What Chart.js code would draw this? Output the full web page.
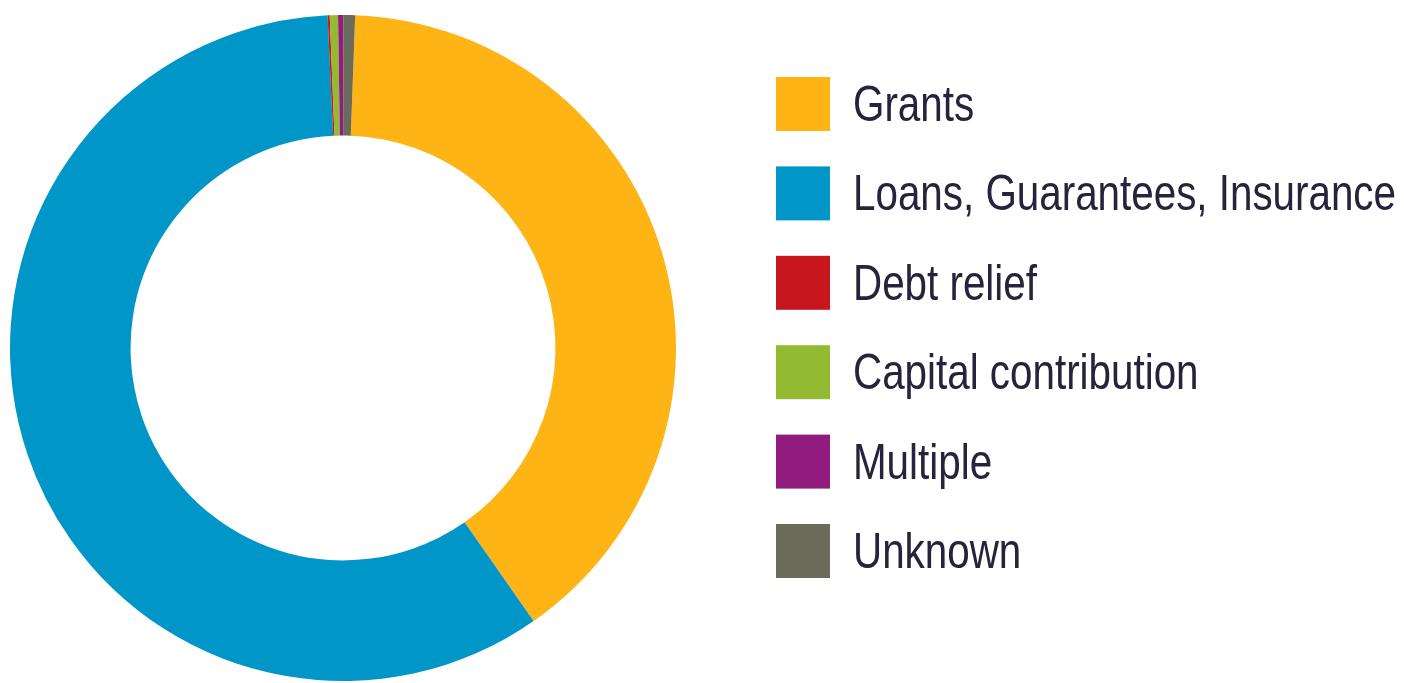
<!DOCTYPE html>
<html>
<head>
<meta charset="utf-8">
<script src="https://cdn.jsdelivr.net/npm/chart.js@4/dist/chart.umd.min.js"></script>
<style>
  html, body { margin: 0; padding: 0; background: #ffffff; }
  #wrap { position: relative; width: 1404px; height: 683px; }
</style>
</head>
<body>
<div id="wrap"><canvas id="c" width="1404" height="683"></canvas></div>
<script>
const categories = ['Grants', 'Loans, Guarantees, Insurance', 'Debt relief', 'Capital contribution', 'Multiple', 'Unknown'];
const shares = [39.72, 58.96, 0.10, 0.40, 0.25, 0.57];
const colors = ['#FDB414', '#0096C8', '#C8161E', '#94BA32', '#921B7E', '#6B6B5A'];

const legendPlugin = {
  id: 'sideLegend',
  afterDraw(chart) {
    const ctx = chart.ctx;
    const boxX = 776, boxTop = 77, boxSize = 54, step = 89.4;
    const textX = 853, longestTarget = 543;
    ctx.save();
    ctx.font = "50px 'Liberation Sans', Arial, sans-serif";
    ctx.textBaseline = 'alphabetic';
    ctx.textAlign = 'left';
    const labels = chart.data.labels;
    const maxW = Math.max(...labels.map(l => ctx.measureText(l).width));
    const sx = longestTarget / maxW;
    labels.forEach((lab, i) => {
      const y = boxTop + i * step;
      ctx.fillStyle = chart.data.datasets[0].backgroundColor[i];
      ctx.fillRect(boxX, y, boxSize, boxSize);
      ctx.save();
      ctx.translate(textX, y + 44);
      ctx.scale(sx, 1);
      ctx.fillStyle = '#26233A';
      ctx.fillText(lab, 0, 0);
      ctx.restore();
    });
    ctx.restore();
  }
};

new Chart(document.getElementById('c'), {
  type: 'doughnut',
  data: {
    labels: categories,
    datasets: [{
      data: shares,
      backgroundColor: colors,
      borderWidth: 0,
      hoverOffset: 0
    }]
  },
  options: {
    responsive: false,
    animation: false,
    rotation: 2.1,
    cutout: '63.8%',
    layout: { padding: { left: 10, right: 728, top: 14.5, bottom: 1.5 } },
    plugins: {
      legend: { display: false },
      tooltip: { enabled: false }
    }
  },
  plugins: [legendPlugin]
});
</script>
</body>
</html>
